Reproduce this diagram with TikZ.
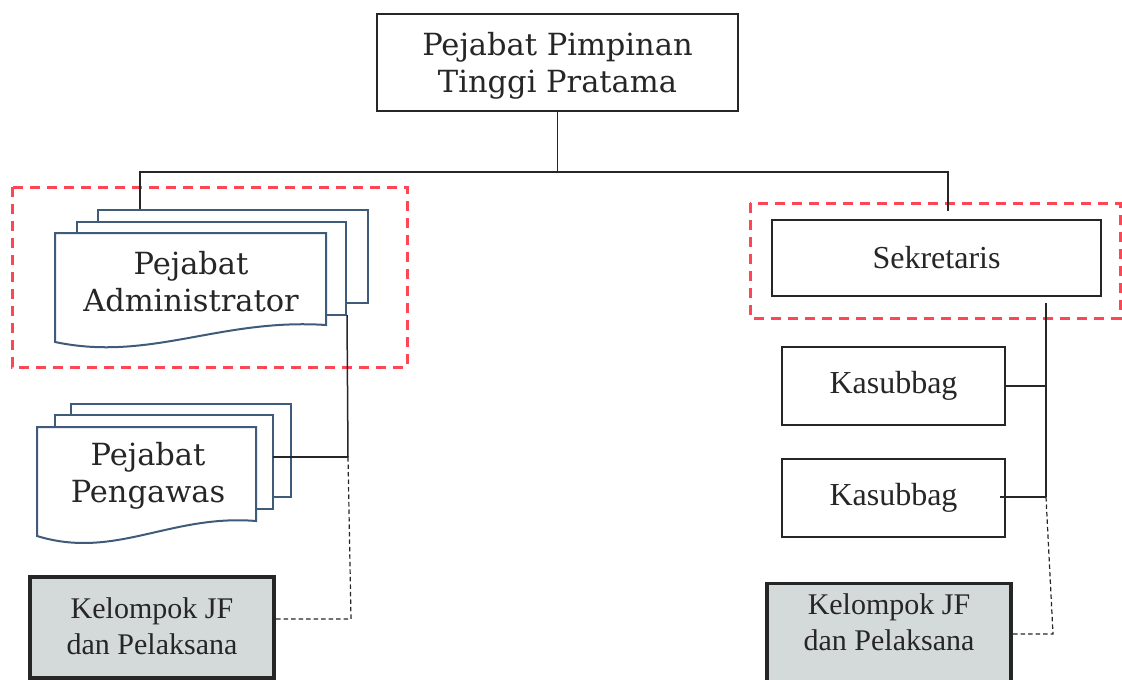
\documentclass[tikz,border=0pt]{standalone}
\usepackage{fontspec}
\newfontfamily\bookfont{DejaVu Serif}
\newfontfamily\timesfont{Liberation Serif}
\begin{document}
\begin{tikzpicture}[x=1pt,y=-1pt,
  conn/.style={line width=1.5pt, black!85},
  dconn/.style={line width=1.2pt, black!85, dash pattern=on 4.5pt off 3pt},
  tbox/.style={draw, line width=2.8pt, black!85, fill=white, inner sep=0pt},
  jfbox/.style={draw, line width=3.2pt, black!85, fill={rgb,255:red,212;green,218;blue,218}, inner sep=0pt},
  jftxt/.style={align=center, font=\timesfont\fontsize{30}{36}\selectfont, text=black!85},
  redbox/.style={draw={rgb,255:red,255;green,70;blue,85}, line width=3pt, dash pattern=on 10pt off 7pt},
  docpage/.style={draw={rgb,255:red,62;green,92;blue,122}, line width=2pt, fill=white},
  booktxt/.style={align=center, font=\bookfont\fontsize{30.5}{37}\selectfont, text=black!85},
  timestxt/.style={font=\timesfont\fontsize{32}{38}\selectfont, text=black!85}
]
\useasboundingbox (0,0) rectangle (1122,680);

% red dashed groups
\draw[redbox] (12,187) rectangle (407,367);
\draw[redbox] (750,203) rectangle (1120,318);

% top box
\node[tbox, minimum width=361pt, minimum height=97pt, booktxt] (top) at (557.5,62.5) {};
\node[booktxt] (toptxt) at (557.5,66) {Pejabat Pimpinan\\Tinggi Pratama};

% bus
\coordinate (busL) at (140,172);
\coordinate (busR) at (948,172);
\coordinate (busM) at (top.south |- busL);
\coordinate (admTop) at (140,210);
\coordinate (sekTop) at (948,211);
\draw[conn] (top.south) -- (busM);
\draw[conn] (admTop) -- (busL) -- (busR) -- (sekTop);

% Pejabat Administrator (stacked documents)
\draw[docpage] (98,210) -- (368,210) -- (368,303) -- (346,303) -- (346,222) -- (98,222) -- cycle;
\draw[docpage] (77,222) -- (346,222) -- (346,315) -- (326,315) -- (326,233) -- (77,233) -- cycle;
\draw[docpage] (55,233) -- (326,233) -- (326,325) .. controls (220,318) and (150,362) .. (55,342) -- cycle;
\node[booktxt] (adm) at (191,282) {Pejabat\\Administrator};
\coordinate (admOut) at (347,315);

% Pejabat Pengawas (stacked documents)
\draw[docpage] (71,404) -- (291,404) -- (291,497) -- (273,497) -- (273,415) -- (71,415) -- cycle;
\draw[docpage] (55,415) -- (273,415) -- (273,509) -- (256,509) -- (256,427) -- (55,427) -- cycle;
\draw[docpage] (37,427) -- (256,427) -- (256,521) .. controls (170,514) and (115,560) .. (37,536) -- cycle;
\node[booktxt] (pgw) at (148,476) {Pejabat\\Pengawas};
\coordinate (pgwOut) at (273,457);

% left spine
\coordinate (spL1) at (348,457);
\coordinate (spL2) at (351,619);
\draw[conn] (admOut) -- (spL1);
\draw[conn] (pgwOut) -- (spL1);

% Kelompok JF left
\node[jfbox, minimum width=244pt, minimum height=101pt] (jfL) at (152,627.5) {};
\node[jftxt] (jfLt) at (152,626) {Kelompok JF\\dan Pelaksana};
\draw[dconn] (spL1) -- (spL2) -- (jfL.east |- spL2);

% Sekretaris
\node[tbox, minimum width=329pt, minimum height=76pt, timestxt] (sek) at (936.5,258) {Sekretaris};
\coordinate (sekOut) at (1046,303);

% Kasubbag
\node[tbox, minimum width=223pt, minimum height=78pt, timestxt] (ks1) at (893.5,386) {Kasubbag};
\node[tbox, minimum width=223pt, minimum height=78pt, timestxt] (ks2) at (893.5,498) {Kasubbag};
\coordinate (spR1) at (1046,386);
\coordinate (spR2) at (1046,497);
\coordinate (spR3) at (1053,634);
\draw[conn] (sekOut) -- (spR2);
\draw[conn] (ks1.east |- spR1) -- (spR1);
\draw[conn] (1000,497) -- (spR2);

% Kelompok JF right
\node[jfbox, minimum width=244pt, minimum height=110pt, anchor=north] (jfR) at (889,582) {};
\node[jftxt] (jfRt) at (889,622) {Kelompok JF\\dan Pelaksana};
\draw[dconn] (spR2) -- (spR3) -- (jfR.east |- spR3);

\end{tikzpicture}
\end{document}
